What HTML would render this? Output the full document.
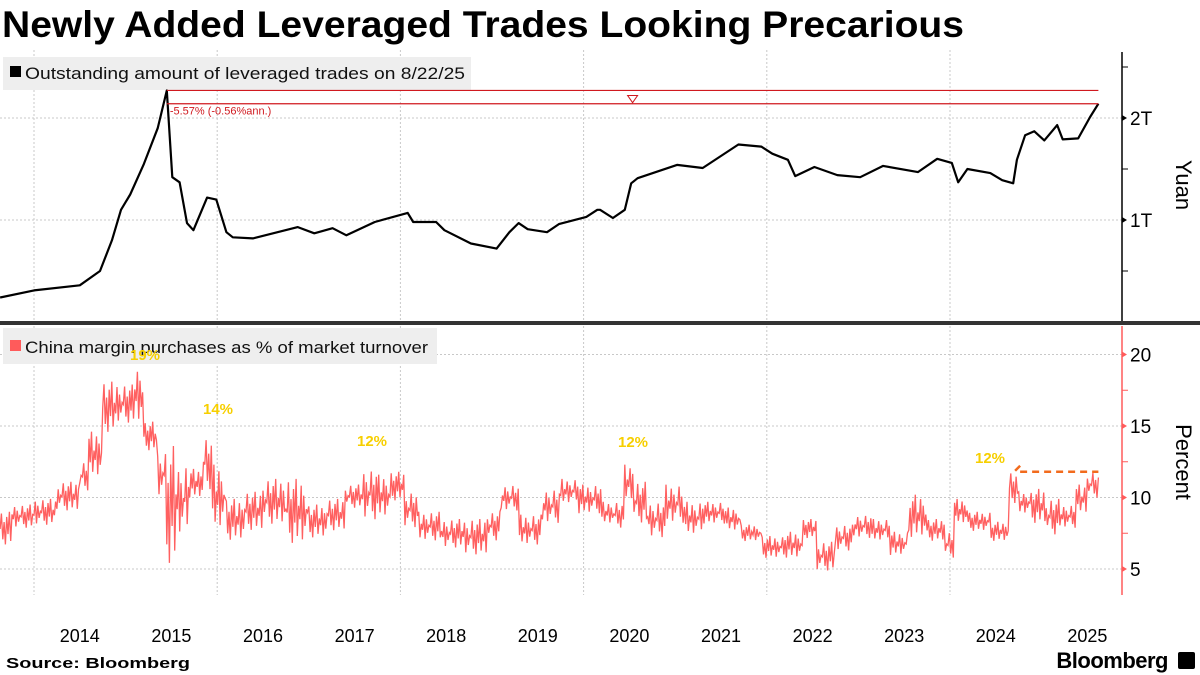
<!DOCTYPE html>
<html><head><meta charset="utf-8"><style>
body{margin:0;background:#fff;width:1200px;height:675px;overflow:hidden;font-family:"Liberation Sans",sans-serif}
svg{display:block}
</style></head><body>
<svg id="c" width="1200" height="675" xmlns="http://www.w3.org/2000/svg">
<text x="2" y="37" font-size="37" font-weight="bold" fill="#000" textLength="962" lengthAdjust="spacingAndGlyphs">Newly Added Leveraged Trades Looking Precarious</text>
<g id="grid"></g>
<rect x="3" y="57" width="468" height="33" fill="#eeeeee"/>
<rect x="10" y="66" width="11" height="11" fill="#000"/>
<text x="25" y="79" font-size="17" fill="#111" textLength="440" lengthAdjust="spacingAndGlyphs">Outstanding amount of leveraged trades on 8/22/25</text>
<rect x="3" y="328" width="434" height="36" fill="#eeeeee"/>
<rect x="10" y="340" width="11" height="11" fill="#ff5b5b"/>
<text x="25" y="353" font-size="17" fill="#111" textLength="403" lengthAdjust="spacingAndGlyphs">China margin purchases as % of market turnover</text>
<g id="topg"></g>
<g id="botg"></g>
<rect x="0" y="321" width="1200" height="4" fill="#333"/>
<text x="0" y="0" font-size="22" fill="#000" transform="translate(1176,185) rotate(90)" text-anchor="middle">Yuan</text>
<text x="0" y="0" font-size="22" fill="#000" transform="translate(1176,462) rotate(90)" text-anchor="middle">Percent</text>
<text x="6" y="668" font-size="15" font-weight="bold" fill="#000" textLength="184" lengthAdjust="spacingAndGlyphs">Source: Bloomberg</text>
<text x="1168" y="668" font-size="22" font-weight="bold" fill="#000" text-anchor="end" letter-spacing="-0.5">Bloomberg</text>
<rect x="1178" y="652" width="17" height="17" rx="2" fill="#000"/>
</svg>
<script>
// top series: outstanding leveraged trades (trillion yuan)
const topDates=[2013.63,2014.0,2014.5,2014.72,2014.85,2014.95,2015.05,2015.2,2015.35,2015.45,2015.51,2015.59,2015.67,2015.74,2015.89,2015.99,2016.1,2016.17,2016.39,2016.88,2017.06,2017.26,2017.41,2017.72,2018.08,2018.14,2018.39,2018.48,2018.77,2019.05,2019.19,2019.29,2019.39,2019.6,2019.73,2020.03,2020.15,2020.18,2020.32,2020.45,2020.52,2020.59,2021.02,2021.3,2021.69,2021.94,2022.06,2022.23,2022.31,2022.52,2022.77,2023.02,2023.27,2023.65,2023.86,2024.02,2024.09,2024.19,2024.44,2024.57,2024.69,2024.73,2024.82,2024.92,2025.03,2025.17,2025.23,2025.4,2025.53,2025.62];
const topVals=[0.24,0.31,0.36,0.5,0.8,1.1,1.25,1.55,1.9,2.27,1.42,1.37,0.97,0.9,1.22,1.2,0.88,0.83,0.82,0.93,0.87,0.92,0.85,0.98,1.07,0.98,0.98,0.9,0.77,0.72,0.88,0.97,0.91,0.88,0.96,1.03,1.1,1.1,1.02,1.1,1.36,1.41,1.54,1.51,1.74,1.72,1.65,1.59,1.43,1.52,1.44,1.42,1.53,1.47,1.6,1.56,1.37,1.5,1.46,1.39,1.36,1.59,1.83,1.87,1.78,1.93,1.79,1.8,2.01,2.14];
const topTicks=["1T","2T"];
// bottom series: margin purchases % of turnover, segment end dates with high/low
const redEnd=[2013.76,2014.0,2014.25,2014.5,2014.6,2014.75,2014.92,2015.1,2015.2,2015.35,2015.45,2015.55,2015.7,2015.85,2015.95,2016.1,2016.3,2016.5,2016.75,2017.0,2017.2,2017.4,2017.6,2017.75,2017.9,2018.05,2018.2,2018.45,2018.7,2018.95,2019.1,2019.3,2019.55,2019.75,2019.95,2020.2,2020.33,2020.45,2020.55,2020.7,2020.9,2021.1,2021.3,2021.55,2021.72,2021.95,2022.2,2022.4,2022.55,2022.75,2022.95,2023.15,2023.35,2023.55,2023.75,2023.95,2024.05,2024.2,2024.45,2024.65,2024.75,2024.9,2025.05,2025.2,2025.38,2025.5,2025.62];
const redHi=[9.0,9.5,9.9,11.1,12.5,14.6,18.1,17.9,19.2,15.3,13.2,13.6,12.3,12.0,14.2,12.3,9.9,10.4,11.3,11.3,9.5,9.9,10.9,12.0,11.6,11.8,10.4,9.0,8.5,8.5,9.0,10.9,8.8,10.6,11.3,10.9,9.7,9.7,12.3,11.1,9.7,10.9,9.7,9.7,9.3,8.1,7.3,7.6,8.5,6.9,8.1,8.8,8.5,7.6,10.2,8.5,7.6,9.9,9.0,8.3,11.8,10.4,10.6,9.9,9.5,10.9,11.8];
const redLo=[6.6,7.8,8.0,9.0,10.4,11.3,14.4,15.1,15.1,13.2,9.9,5.0,7.1,9.9,10.4,7.6,6.9,7.6,8.0,6.6,7.1,7.6,9.2,8.3,8.5,9.7,7.8,6.9,6.4,5.9,6.9,9.0,6.6,8.1,9.5,8.8,8.1,7.8,9.7,8.1,7.1,8.1,7.3,8.1,7.6,6.9,5.7,5.7,7.1,4.8,6.2,7.1,6.9,5.9,7.1,6.9,5.7,8.1,7.6,6.9,9.5,8.8,8.1,7.3,7.8,8.8,9.9];
const pctTicks=[5,10,15,20];
const years=[2014,2015,2016,2017,2018,2019,2020,2021,2022,2023,2024,2025];
const peakVal=2.27, lastVal=2.14, peakDate=2015.45, lastDate=2025.62;
const refVal=11.8, refStart=2024.7;

const NS="http://www.w3.org/2000/svg";
const X=t=>34+(t-2014)*91.6;
const YT=v=>322-v*102;
const YB=v=>569-(v-5)*14.3;
function mk(tag,attrs,parent){const e=document.createElementNS(NS,tag);for(const k in attrs)e.setAttribute(k,attrs[k]);parent.appendChild(e);return e;}
const svgEl=document.getElementById('c'),gridEl=document.getElementById('grid'),topEl=document.getElementById('topg'),botEl=document.getElementById('botg');
const AX=1122;
for(let y=2014;y<=2024;y+=2){
 const g=mk('line',{x1:X(y),x2:X(y),y1:50,y2:595,stroke:'#c8c8c8','stroke-dasharray':'2,2','stroke-width':1},gridEl);
 
 
}
topTicks.forEach((lab,i)=>{const v=i+1;
 const g=mk('line',{x1:0,x2:AX,y1:YT(v),y2:YT(v),stroke:'#c8c8c8','stroke-dasharray':'2,2'},gridEl);
 
 
 const t=mk('text',{x:1130,y:YT(v)+7,'font-size':19,fill:'#000'},topEl);t.textContent=lab;
 
 
 mk('path',{d:`M${AX},${YT(v)-3}L${AX+5},${YT(v)}L${AX},${YT(v)+3}Z`,fill:'#000'},topEl);
});
[0.5,1.5,2.5].forEach(v=>mk('line',{x1:AX,x2:AX+6,y1:YT(v),y2:YT(v),stroke:'#000'},topEl));
const ta=mk('line',{x1:AX,x2:AX,y1:52,y2:322,stroke:'#000','stroke-width':1.5},topEl);


pctTicks.forEach(v=>{
 const g=mk('line',{x1:0,x2:AX,y1:YB(v),y2:YB(v),stroke:'#c8c8c8','stroke-dasharray':'2,2'},gridEl);
 
 
 const t=mk('text',{x:1130,y:YB(v)+7,'font-size':19,fill:'#000'},botEl);t.textContent=v;
 
 
 mk('path',{d:`M${AX},${YB(v)-3}L${AX+5},${YB(v)}L${AX},${YB(v)+3}Z`,fill:'#ff5b5b'},botEl);
});
[7.5,12.5,17.5].forEach(v=>mk('line',{x1:AX,x2:AX+6,y1:YB(v),y2:YB(v),stroke:'#ff5b5b'},botEl));
const ba=mk('line',{x1:AX,x2:AX,y1:326,y2:595,stroke:'#ff5b5b','stroke-width':1.5},botEl);


years.forEach(y=>{const t=mk('text',{x:X(y+0.5),y:642,'font-size':18,fill:'#000','text-anchor':'middle'},svgEl);t.textContent=y;
 
 });
let d=topDates.map((t,i)=>(i?'L':'M')+X(t).toFixed(1)+','+YT(topVals[i]).toFixed(1)).join('');
const tl=mk('path',{d:d,fill:'none',stroke:'#000','stroke-width':2.2,'stroke-linejoin':'round'},topEl);


const l1=mk('line',{x1:X(peakDate),x2:X(lastDate),y1:YT(peakVal),y2:YT(peakVal),stroke:'#d0191f','stroke-width':1.2},topEl);


const l2=mk('line',{x1:X(peakDate),x2:X(lastDate),y1:YT(lastVal),y2:YT(lastVal),stroke:'#d0191f','stroke-width':1.2},topEl);


const mx=(X(peakDate)+X(lastDate))/2;
const tri=mk('path',{d:`M${mx-5},${YT(peakVal)+5}L${mx+5},${YT(peakVal)+5}L${mx},${YT(lastVal)-1}Z`,fill:'#fff',stroke:'#d0191f'},topEl);


const at=mk('text',{x:X(peakDate)+3,y:YT(lastVal)+11,'font-size':11,fill:'#d0191f'},topEl);at.textContent='-5.57% (-0.56%ann.)';


const pat=[0.5,0.95,0.2,0.7,0.05,0.85,0.35,1,0.15,0.6,0.4,0.9,0.1,0.75,0.3,0.55];
let pts=[],k=0,prev=2013.63;
redEnd.forEach((e,i)=>{const x0=X(prev),x1=X(e);const n=Math.max(2,Math.round((x1-x0)/1.3));
 for(let j=0;j<n;j++){const f=pat[k%pat.length];k++;const v=redLo[i]+(redHi[i]-redLo[i])*f;pts.push([x0+(x1-x0)*j/n,YB(v)]);}
 prev=e;});
pts.push([X(lastDate),YB(11.4)]);
const rl=mk('path',{d:pts.map((p,i)=>(i?'L':'M')+p[0].toFixed(1)+','+p[1].toFixed(1)).join(''),fill:'none',stroke:'#ff6060','stroke-width':1.3},botEl);


const od=mk('line',{x1:X(refStart)+6,x2:X(lastDate),y1:YB(refVal),y2:YB(refVal),stroke:'#f26b1d','stroke-width':2.5,'stroke-dasharray':'7,5'},botEl);


mk('path',{d:`M${X(refStart)+1},${YB(refVal)-1}L${X(refStart)+6},${YB(refVal)-6}`,stroke:'#f26b1d','stroke-width':2.5,fill:'none'},botEl);
[[145,360,'19%'],[218,414,'14%'],[372,446,'12%'],[633,447,'12%'],[990,463,'12%']].forEach(a=>{
 const t=mk('text',{x:a[0],y:a[1],'font-size':15,'font-weight':'bold',fill:'#f7cf00','text-anchor':'middle'},botEl);t.textContent=a[2];
 
 });
</script>
</body></html>
